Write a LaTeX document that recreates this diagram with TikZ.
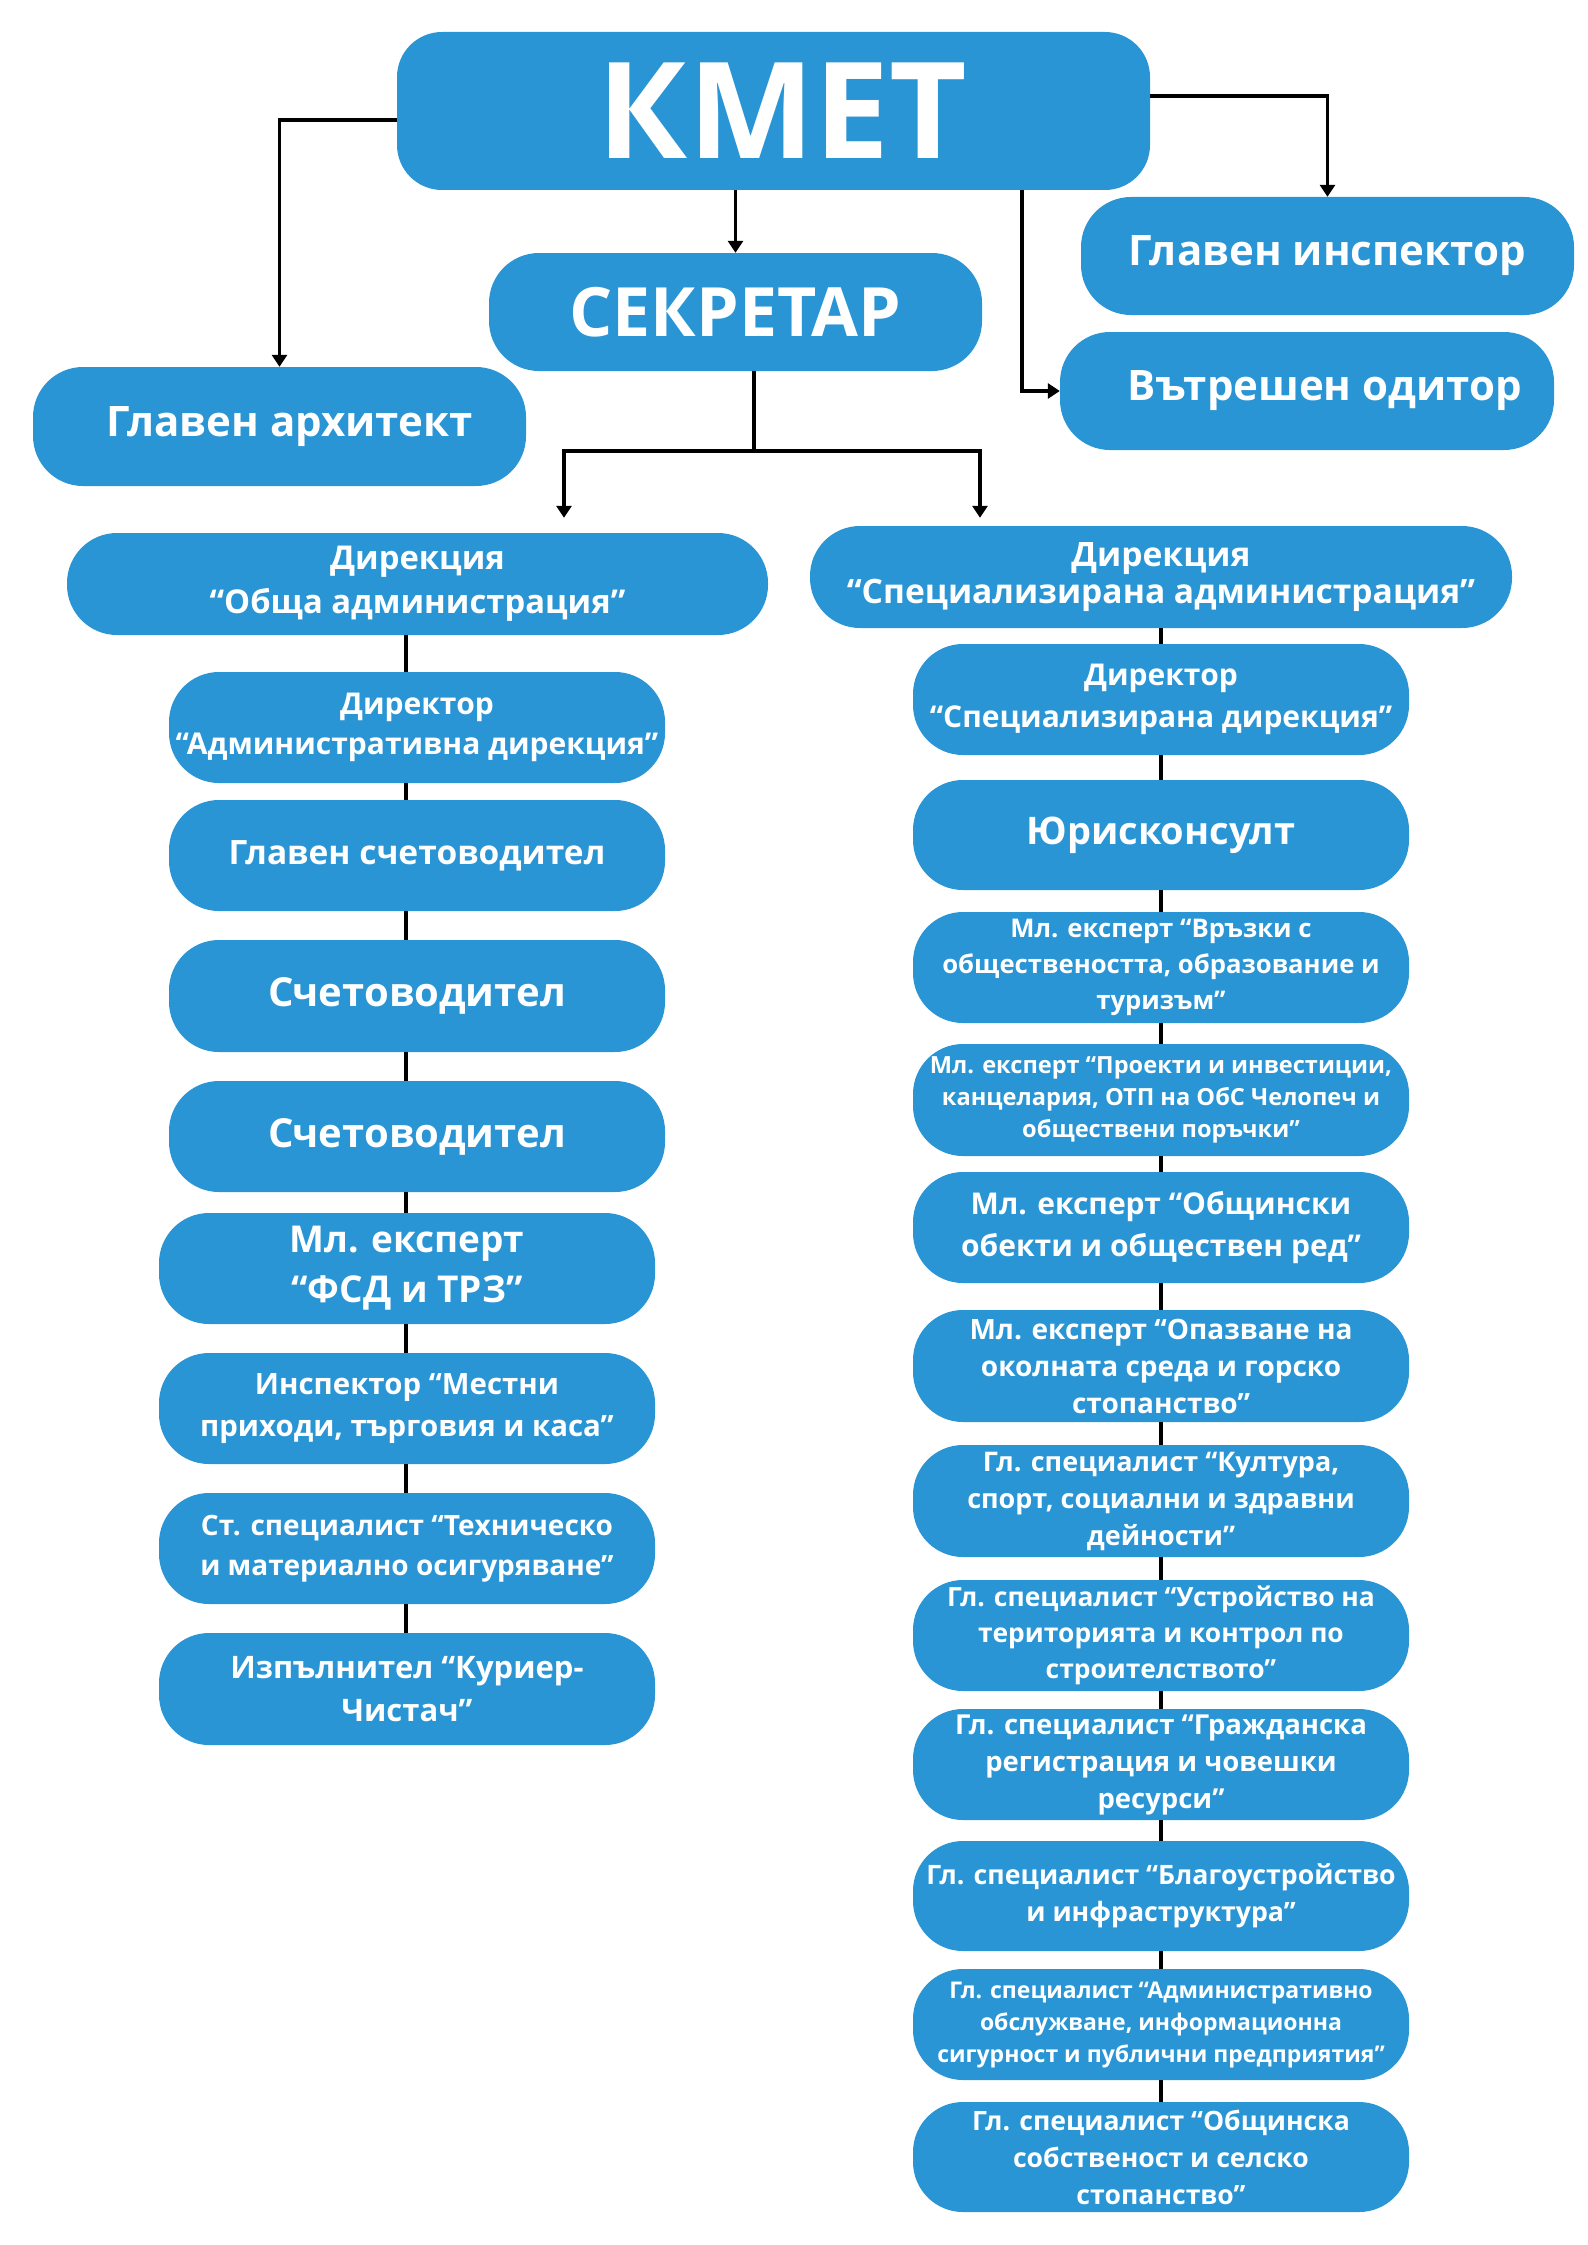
\documentclass[tikz,border=0pt]{standalone}
\usepackage{fontspec}
\setmainfont{Open Sans}
\usetikzlibrary{arrows.meta,calc}
\definecolor{boxblue}{RGB}{41,149,213}
\newcommand\fz[2]{\fontsize{#1pt}{#2pt}\selectfont}
\begin{document}
\begin{tikzpicture}[x=1pt,y=-1pt,
  box/.style={fill=boxblue, text=white, align=center, inner sep=0pt, rounded corners=#1},
  box/.default=50pt,
  conn/.style={line width=3.8pt, black},
  arr/.style={conn, -{Triangle[width=15pt,length=12pt]}}]
\useasboundingbox (0,0) rectangle (1587,2245);

% top level
\node[box=45pt, minimum width=753pt, minimum height=158pt, font=\bfseries\fz{134}{150}] (kmet) at (773.5,111) {\hspace*{18pt}КМЕТ};
\node[box, minimum width=493pt, minimum height=118pt, font=\bfseries\fz{68}{80}] (sek) at (735.5,312) {СЕКРЕТАР};
\node[box, minimum width=493pt, minimum height=118pt, font=\bfseries\fz{42}{56}] (insp) at (1327.5,256) {Главен инспектор};
\node[box, minimum width=494pt, minimum height=118pt, font=\bfseries\fz{42}{56}] (odit) at (1307,391) {\hspace*{36pt}\raisebox{8pt}{Вътрешен одитор}};
\node[box, minimum width=493pt, minimum height=119pt, font=\bfseries\fz{42}{56}] (arch) at (279.5,426.5) {\hspace*{20pt}Главен архитект};

% left column
\node[box, minimum width=701pt, minimum height=102pt, font=\bfseries\fz{32.8}{44}] (L0) at (417.5,584) {Дирекция\\“Обща администрация”};
\node[box, minimum width=496pt, minimum height=111pt, font=\bfseries\fz{30}{40}] (L1) at (417,727.5) {Директор\\“Административна дирекция”};
\node[box, minimum width=496pt, minimum height=111pt, font=\bfseries\fz{33.5}{44}] (L2) at (417,855.5) {Главен счетоводител};
\node[box, minimum width=496pt, minimum height=112pt, font=\bfseries\fz{40}{50}] (L3) at (417,996) {Счетоводител};
\node[box, minimum width=496pt, minimum height=111pt, font=\bfseries\fz{40}{50}] (L4) at (417,1136.5) {Счетоводител};
\node[box, minimum width=496pt, minimum height=111pt, font=\bfseries\fz{37}{50}] (L5) at (407,1268.5) {Мл. експерт\\“ФСД и ТРЗ”};
\node[box, minimum width=496pt, minimum height=111pt, font=\bfseries\fz{29.4}{42}] (L6) at (407,1408.5) {Инспектор “Местни\\приходи, търговия и каса”};
\node[box, minimum width=496pt, minimum height=111pt, font=\bfseries\fz{28}{40}] (L7) at (407,1548.5) {Ст. специалист “Техническо\\и материално осигуряване”};
\node[box, minimum width=496pt, minimum height=112pt, font=\bfseries\fz{31}{43}] (L8) at (407,1689) {Изпълнител “Куриер-\\Чистач”};

% right column
\node[box, minimum width=702pt, minimum height=102pt, font=\bfseries\fz{33.6}{44}] (R0) at (1161,577) {\raisebox{4pt}{\shortstack{Дирекция\\[2pt]“Специализирана администрация”}}};
\node[box, minimum width=496pt, minimum height=111pt, font=\bfseries\fz{30}{42}] (R1) at (1161,699.5) {Директор\\“Специализирана дирекция”};
\node[box, minimum width=496pt, minimum height=110pt, font=\bfseries\fz{38}{50}] (R2) at (1161,835) {Юрисконсулт};
\node[box, minimum width=496pt, minimum height=111pt, font=\bfseries\fz{25.7}{36}] (R3) at (1161,967.5) {Мл. експерт “Връзки с\\обществеността, образование и\\туризъм”};
\node[box, minimum width=496pt, minimum height=112pt, font=\bfseries\fz{23.6}{32}] (R4) at (1161,1100) {Мл. експерт “Проекти и инвестиции,\\канцелария, ОТП на ОбС Челопеч и\\обществени поръчки”};
\node[box, minimum width=496pt, minimum height=111pt, font=\bfseries\fz{30}{42}] (R5) at (1161,1227.5) {Мл. експерт “Общински\\обекти и обществен ред”};
\node[box, minimum width=496pt, minimum height=112pt, font=\bfseries\fz{28}{37}] (R6) at (1161,1366) {Мл. експерт “Опазване на\\околната среда и горско\\стопанство”};
\node[box, minimum width=496pt, minimum height=112pt, font=\bfseries\fz{27}{37}] (R7) at (1161,1501) {Гл. специалист “Култура,\\спорт, социални и здравни\\дейности”};
\node[box, minimum width=496pt, minimum height=111pt, font=\bfseries\fz{26.4}{36}] (R8) at (1161,1635.5) {Гл. специалист “Устройство на\\територията и контрол по\\строителството”};
\node[box, minimum width=496pt, minimum height=111pt, font=\bfseries\fz{27.5}{37}] (R9) at (1161,1764.5) {Гл. специалист “Гражданска\\регистрация и човешки\\ресурси”};
\node[box, minimum width=496pt, minimum height=110pt, font=\bfseries\fz{26.7}{37}] (R10) at (1161,1896) {Гл. специалист “Благоустройство\\и инфраструктура”};
\node[box, minimum width=496pt, minimum height=111pt, font=\bfseries\fz{23}{32}] (R11) at (1161,2024.5) {Гл. специалист “Административно\\обслужване, информационна\\сигурност и публични предприятия”};
\node[box, minimum width=496pt, minimum height=110pt, font=\bfseries\fz{26.6}{37}] (R12) at (1161,2157) {Гл. специалист “Общинска\\собственост и селско\\стопанство”};

% helper coordinates
\coordinate (lx) at (406,0);
\coordinate (odx) at (1022,0);
\coordinate (sj) at (754,451);
\coordinate (sl) at (564,0);
\coordinate (sr) at (980,0);

% top connectors
\draw[arr] ([yshift=-9pt]kmet.west) -| (arch.north);
\draw[arr] ([yshift=15pt]kmet.east) -| (insp.north);
\draw[arr] (kmet.south -| sek.north) -- (sek.north);
\draw[arr] (kmet.south -| odx) |- (odit.west);
\draw[conn] (sek.south -| sj) -- (sj);
\draw[arr, shorten >=15pt] (sj) -| (L0.north -| sl);
\draw[arr, shorten >=8pt] (sj) -| (R0.north -| sr);

% left column connectors
\foreach \a/\b in {L0/L1,L1/L2,L2/L3,L3/L4,L4/L5,L5/L6,L6/L7,L7/L8}
  \draw[conn] (\a.south -| lx) -- (\b.north -| lx);
% right column connectors
\foreach \a/\b in {R0/R1,R1/R2,R2/R3,R3/R4,R4/R5,R5/R6,R6/R7,R7/R8,R8/R9,R9/R10,R10/R11,R11/R12}
  \draw[conn] (\a.south) -- (\b.north);
\end{tikzpicture}
\end{document}
